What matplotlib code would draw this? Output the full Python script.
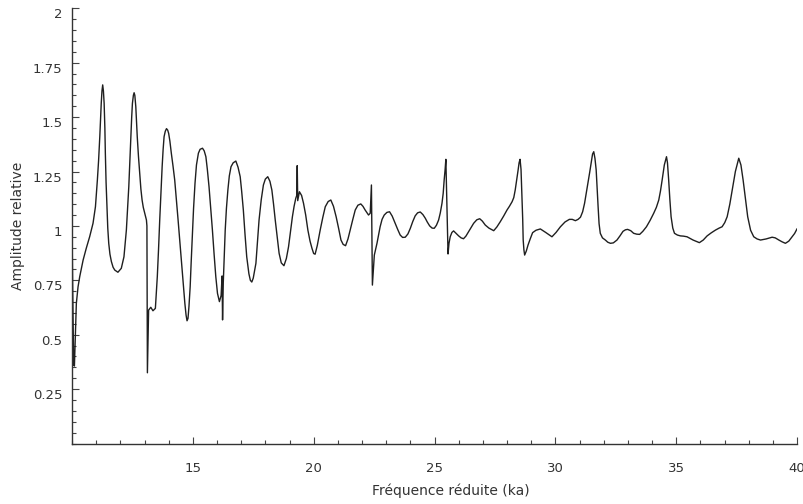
import matplotlib
matplotlib.use("Agg")
import matplotlib.pyplot as plt
import numpy as np
from matplotlib.ticker import MultipleLocator, FixedLocator

# Main readings of the curve
ka = [10.00, 10.03, 10.07, 10.10, 10.14, 10.18, 10.25, 10.32, 10.46, 10.59, 10.73, 10.87, 10.97,
      11.05, 11.15, 11.21, 11.27, 11.33, 11.38, 11.45, 11.52, 11.63, 11.77, 11.90, 12.04, 12.15,
      12.25, 12.35, 12.43, 12.50, 12.57, 12.64, 12.70, 12.80, 12.90, 13.01, 13.08, 13.10, 13.12,
      13.17, 13.26, 13.35, 13.45, 13.53, 13.63, 13.73, 13.81, 13.91, 14.00, 14.11, 14.25, 14.39,
      14.53, 14.67, 14.76, 14.89, 14.98, 15.09, 15.23, 15.40, 15.54, 15.67, 15.81, 15.95, 16.10,
      16.17, 16.21, 16.23, 16.26, 16.34, 16.45, 16.58, 16.78, 16.96, 17.09, 17.23, 17.44, 17.61,
      17.74, 17.92, 18.10, 18.27, 18.41, 18.57, 18.77, 18.96, 19.12, 19.26, 19.30, 19.32, 19.34,
      19.41, 19.58, 19.76, 19.93, 20.06, 20.27, 20.48, 20.71, 20.93, 21.13, 21.32, 21.51, 21.72,
      21.95, 22.13, 22.27, 22.34, 22.39, 22.43, 22.51, 22.62, 22.75, 22.92, 23.14, 23.37, 23.58,
      23.79, 24.00, 24.20, 24.41, 24.62, 24.80, 24.99, 25.17, 25.31, 25.40, 25.47, 25.56, 25.65,
      25.79, 26.00, 26.20, 26.41, 26.62, 26.87, 27.10, 27.45, 27.72, 28.00, 28.21, 28.34, 28.46,
      28.54, 28.62, 28.67, 28.73, 28.87, 29.06, 29.38, 29.86, 30.21, 30.58, 30.83, 31.04, 31.21,
      31.35, 31.48, 31.59, 31.69, 31.77, 31.86, 32.07, 32.28, 32.55, 32.80, 32.99, 33.24, 33.49,
      33.77, 34.07, 34.28, 34.42, 34.60, 34.69, 34.79, 34.93, 35.18, 35.45, 35.96, 36.28, 36.63,
      36.90, 37.11, 37.32, 37.59, 37.77, 37.96, 38.21, 38.49, 38.97, 39.25, 39.52, 39.80, 40.00]

amplitude = [1.00, 0.70, 0.36, 0.356, 0.50, 0.644, 0.72, 0.767, 0.843, 0.897, 0.950, 1.012, 1.088,
             1.211, 1.41, 1.563, 1.648, 1.563, 1.334, 1.073, 0.92, 0.836, 0.797, 0.787, 0.805, 0.858,
             0.981, 1.18, 1.41, 1.563, 1.612, 1.548, 1.41, 1.242, 1.119, 1.058, 1.027, 1.00, 0.325,
             0.613, 0.626, 0.61, 0.621, 0.767, 1.027, 1.272, 1.41, 1.447, 1.425, 1.334, 1.211, 1.027,
             0.828, 0.644, 0.564, 0.721, 0.950, 1.196, 1.334, 1.357, 1.318, 1.18, 0.981, 0.767, 0.652,
             0.68, 0.77, 0.568, 0.74, 0.981, 1.165, 1.272, 1.298, 1.226, 1.073, 0.858, 0.742, 0.828,
             1.027, 1.188, 1.226, 1.165, 1.027, 0.874, 0.817, 0.904, 1.042, 1.127, 1.14, 1.277, 1.116,
             1.157, 1.104, 0.981, 0.897, 0.870, 0.981, 1.088, 1.119, 1.042, 0.935, 0.909, 0.981, 1.073,
             1.101, 1.073, 1.05, 1.058, 1.188, 0.728, 0.866, 0.92, 0.996, 1.05, 1.065, 1.012, 0.958,
             0.948, 0.989, 1.046, 1.064, 1.035, 1.00, 0.989, 1.027, 1.104, 1.211, 1.306, 0.871, 0.950,
             0.977, 0.954, 0.941, 0.973, 1.012, 1.033, 1.004, 0.978, 1.019, 1.073, 1.111, 1.165, 1.257,
             1.306, 1.134, 0.935, 0.866, 0.912, 0.969, 0.986, 0.950, 0.996, 1.030, 1.024, 1.040, 1.104,
             1.196, 1.288, 1.341, 1.257, 1.088, 0.966, 0.935, 0.920, 0.935, 0.975, 0.984, 0.966, 0.961,
             0.996, 1.058, 1.119, 1.211, 1.318, 1.211, 1.042, 0.966, 0.954, 0.950, 0.923, 0.954, 0.981,
             0.996, 1.042, 1.165, 1.311, 1.211, 1.042, 0.950, 0.935, 0.948, 0.935, 0.920, 0.950, 0.986]

# Additional readings on the rounded parts of the curve
ka_detail = [11.10, 11.18, 11.24, 11.30, 11.36, 11.41, 11.48, 11.57, 11.70,
             12.39, 12.47, 12.54, 12.60, 12.67, 12.75, 12.85, 12.95,
             13.58, 13.68, 13.77, 13.86, 13.96, 14.05, 14.18, 14.32, 14.46, 14.60, 14.72, 14.80,
             14.84, 14.93, 15.03, 15.15, 15.30, 15.47, 15.60, 15.74, 15.88, 16.02,
             16.39, 16.51, 16.67, 16.87, 17.02, 17.16, 17.32, 17.38, 17.50, 17.67, 17.83, 18.00,
             18.19, 18.34, 18.49, 18.66, 18.87, 19.04, 19.19,
             19.50, 19.67, 19.85, 20.00, 20.15, 20.38, 20.60, 20.82, 21.03, 21.22, 21.42, 21.62,
             21.83, 22.04,
             22.83, 23.03, 23.25, 23.48, 23.68, 23.90, 24.10, 24.30, 24.52, 24.70, 24.90, 25.08,
             25.24, 25.36, 25.44,
             25.60, 25.72, 25.90, 26.10, 26.30, 26.52, 26.75, 26.98, 27.25, 27.58, 27.86, 28.10,
             28.28, 28.40, 28.50, 28.58, 28.65, 28.70, 28.80, 28.96, 29.20, 29.60, 30.03, 30.40,
             30.70, 30.94, 31.13, 31.28, 31.42, 31.54, 31.64, 31.73, 31.81, 31.95, 32.17, 32.40,
             32.68, 32.90, 33.12, 33.37, 33.62, 33.92, 34.18, 34.35, 34.51, 34.64, 34.74, 34.86,
             35.05, 35.30, 35.70, 36.12, 36.45, 36.78, 37.01, 37.22, 37.45, 37.68, 37.87, 38.08,
             38.35, 38.72, 39.10, 39.38, 39.66, 39.90]

amp_detail = [1.30, 1.49, 1.62, 1.62, 1.45, 1.20, 0.99, 0.87, 0.81,
              1.29, 1.50, 1.60, 1.60, 1.48, 1.32, 1.17, 1.085,
              0.89, 1.15, 1.35, 1.435, 1.44, 1.39, 1.275, 1.12, 0.93, 0.73, 0.59, 0.575,
              0.63, 0.83, 1.08, 1.28, 1.352, 1.345, 1.26, 1.08, 0.87, 0.69,
              1.08, 1.23, 1.29, 1.27, 1.16, 0.96, 0.78, 0.75, 0.76, 0.92, 1.12, 1.215,
              1.205, 1.10, 0.95, 0.83, 0.85, 0.975, 1.09,
              1.14, 1.05, 0.93, 0.873, 0.91, 1.04, 1.112, 1.09, 0.99, 0.915, 0.94, 1.03,
              1.095, 1.09,
              1.03, 1.062, 1.045, 0.983, 0.947, 0.963, 1.02, 1.06, 1.052, 1.018, 0.99, 1.003,
              1.06, 1.15, 1.26,
              0.92, 0.97, 0.965, 0.945, 0.953, 0.993, 1.028, 1.022, 0.99, 0.995, 1.045, 1.09,
              1.13, 1.21, 1.29, 1.26, 1.03, 0.89, 0.885, 0.94, 0.98, 0.97, 0.97, 1.018,
              1.03, 1.03, 1.065, 1.15, 1.245, 1.33, 1.31, 1.17, 1.01, 0.945, 0.925, 0.922,
              0.955, 0.982, 0.978, 0.962, 0.975, 1.025, 1.085, 1.16, 1.28, 1.29, 1.12, 0.99,
              0.958, 0.953, 0.935, 0.935, 0.968, 0.99, 1.015, 1.10, 1.25, 1.28, 1.12, 0.98,
              0.94, 0.94, 0.945, 0.927, 0.93, 0.965]

x_ticks = [15, 20, 25, 30, 35, 40]
x_tick_labels = ["15", "20", "25", "30", "35", "40"]
y_ticks = [0.25, 0.5, 0.75, 1, 1.25, 1.5, 1.75, 2]
y_tick_labels = ["0.25", "0.5", "0.75", "1", "1.25", "1.5", "1.75", "2"]

xs = np.array(ka + ka_detail)
ys = np.array(amplitude + amp_detail)
order = np.argsort(xs, kind='stable')
xs, ys = xs[order], ys[order]

plt.rcParams['font.family'] = ['DejaVu Sans']
fig = plt.figure(figsize=(8.04, 5.04), dpi=100)
W, H = 804, 504
ax = fig.add_axes([72 / W, 60.5 / H, 725 / W, 435.2 / H])

ax.plot(xs, ys, color='#1f1f1f', lw=1.0, solid_joinstyle='round')

ax.set_xlim(10, 40)
ax.set_ylim(0, 2)

for s in ['top', 'right']:
    ax.spines[s].set_visible(False)
for s in ['left', 'bottom']:
    ax.spines[s].set_color('#333333')
    ax.spines[s].set_linewidth(1.0)

ax.xaxis.set_major_locator(FixedLocator(x_ticks))
ax.set_xticklabels(x_tick_labels)
ax.xaxis.set_minor_locator(MultipleLocator(1))
ax.yaxis.set_major_locator(FixedLocator(y_ticks))
ax.set_yticklabels(y_tick_labels)
ax.yaxis.set_minor_locator(MultipleLocator(0.05))

ax.tick_params(which='both', direction='in', color='#444444', labelcolor='#333333', labelsize=9.5)
ax.tick_params(which='major', length=5, width=0.8)
ax.tick_params(which='minor', length=3, width=0.8)
ax.tick_params(axis='x', which='major', pad=13)
ax.tick_params(axis='y', which='major', pad=7)
for lab in ax.get_yticklabels():
    lab.set_va('top')

ax.set_xlabel("Fréquence réduite (ka)", fontsize=10, color='#333333', va='center')
ax.xaxis.set_label_coords((451 - 72) / 725, (443.5 - 491) / 435.2)
ax.set_ylabel("Amplitude relative", fontsize=10, color='#333333', va='center')
ax.yaxis.set_label_coords((18 - 72) / 725, 0.5)

fig.savefig("out.png", dpi=100)
